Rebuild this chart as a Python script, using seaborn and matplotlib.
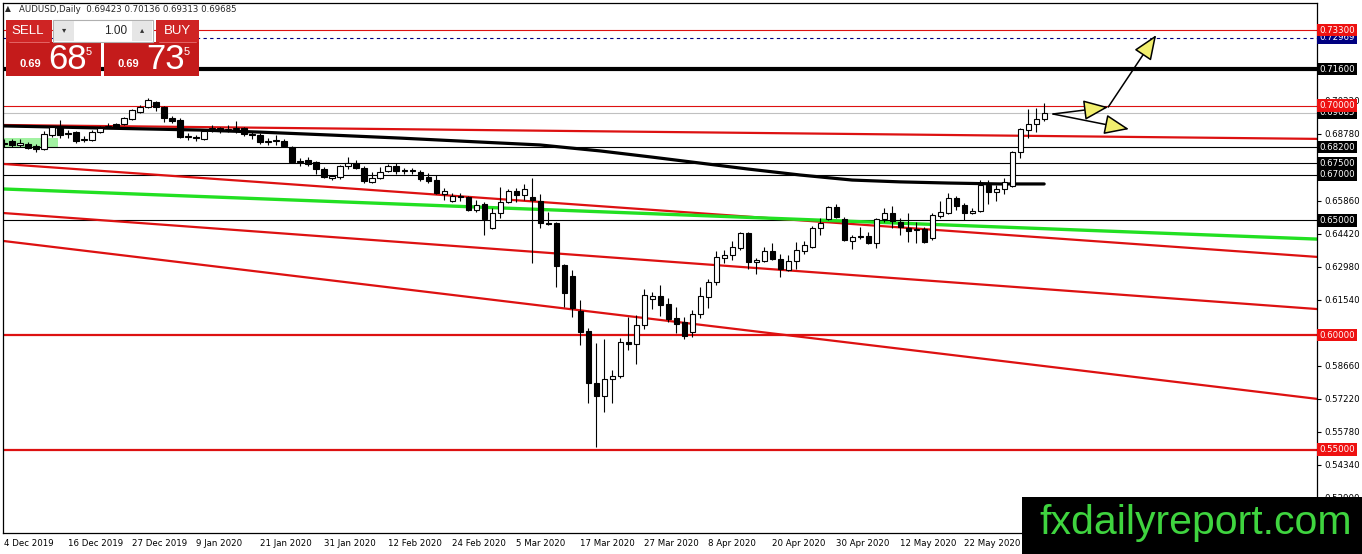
import numpy as np
import pandas as pd
import matplotlib
matplotlib.use("Agg")
import matplotlib.pyplot as plt
from matplotlib.patches import Rectangle
import seaborn as sns

# ===============================
# AUDUSD daily bars
# ===============================

opens = [0.6837, 0.6846, 0.6829, 0.6833, 0.6824, 0.6811, 0.6872, 0.6907, 0.6877, 0.6885,
         0.6851, 0.6851, 0.6885, 0.6907, 0.6920, 0.6920, 0.6942, 0.6973, 0.6994, 0.7016,
         0.6994, 0.6946, 0.6938, 0.6864, 0.6864, 0.6855, 0.6898, 0.6903, 0.6894, 0.6898,
         0.6903, 0.6877, 0.6872, 0.6842, 0.6846, 0.6846, 0.6820, 0.6759, 0.6763, 0.6755,
         0.6724, 0.6685, 0.6689, 0.6737, 0.6750, 0.6728, 0.6668, 0.6685, 0.6715, 0.6737,
         0.6715, 0.6720, 0.6711, 0.6689, 0.6676, 0.6615, 0.6585, 0.6607, 0.6602, 0.6546,
         0.6572, 0.6467, 0.6532, 0.6581, 0.6629, 0.6611, 0.6602, 0.6585, 0.6489, 0.6489,
         0.6306, 0.6258, 0.6105, 0.6018, 0.5791, 0.5734, 0.5808, 0.5822, 0.5970, 0.5961,
         0.6044, 0.6157, 0.6171, 0.6135, 0.6075, 0.6057, 0.6013, 0.6092, 0.6166, 0.6231,
         0.6336, 0.6349, 0.6380, 0.6445, 0.6319, 0.6323, 0.6367, 0.6332, 0.6284, 0.6323,
         0.6367, 0.6384, 0.6467, 0.6506, 0.6559, 0.6506, 0.6410, 0.6428, 0.6432, 0.6402,
         0.6506, 0.6532, 0.6493, 0.6467, 0.6458, 0.6463, 0.6423, 0.6519, 0.6532, 0.6598,
         0.6567, 0.6532, 0.6541, 0.6655, 0.6624, 0.6637, 0.6650, 0.6798, 0.6894, 0.6920,
         0.69423]
highs = [0.6855, 0.6855, 0.6855, 0.6842, 0.6833, 0.6890, 0.6912, 0.6938, 0.6894, 0.6890,
         0.6868, 0.6894, 0.6912, 0.6925, 0.6925, 0.6951, 0.6986, 0.7003, 0.7034, 0.7020,
         0.6999, 0.6955, 0.6946, 0.6881, 0.6872, 0.6898, 0.6916, 0.6907, 0.6916, 0.6933,
         0.6907, 0.6885, 0.6881, 0.6859, 0.6872, 0.6855, 0.6824, 0.6772, 0.6776, 0.6759,
         0.6733, 0.6698, 0.6741, 0.6776, 0.6763, 0.6737, 0.6711, 0.6733, 0.6746, 0.6750,
         0.6728, 0.6728, 0.6720, 0.6707, 0.6698, 0.6642, 0.6620, 0.6620, 0.6607, 0.6589,
         0.6581, 0.6554, 0.6646, 0.6637, 0.6642, 0.6659, 0.6685, 0.6615, 0.6537, 0.6493,
         0.6310, 0.6284, 0.6153, 0.6031, 0.5965, 0.5983, 0.5848, 0.5987, 0.6079, 0.6088,
         0.6201, 0.6188, 0.6218, 0.6162, 0.6122, 0.6079, 0.6109, 0.6210, 0.6245, 0.6367,
         0.6371, 0.6410, 0.6449, 0.6449, 0.6336, 0.6384, 0.6402, 0.6354, 0.6349, 0.6406,
         0.6410, 0.6476, 0.6511, 0.6563, 0.6572, 0.6515, 0.6436, 0.6471, 0.6449, 0.6511,
         0.6554, 0.6563, 0.6511, 0.6532, 0.6493, 0.6471, 0.6532, 0.6585, 0.6620, 0.6607,
         0.6576, 0.6554, 0.6676, 0.6676, 0.6655, 0.6685, 0.6802, 0.6903, 0.6986, 0.6990,
         0.70136]
lows = [0.6820, 0.6820, 0.6820, 0.6811, 0.6798, 0.6807, 0.6864, 0.6859, 0.6859, 0.6837,
        0.6842, 0.6846, 0.6881, 0.6903, 0.6903, 0.6916, 0.6938, 0.6968, 0.6990, 0.6977,
        0.6929, 0.6925, 0.6859, 0.6851, 0.6846, 0.6851, 0.6885, 0.6881, 0.6885, 0.6881,
        0.6868, 0.6855, 0.6833, 0.6829, 0.6829, 0.6820, 0.6750, 0.6737, 0.6737, 0.6702,
        0.6685, 0.6676, 0.6681, 0.6724, 0.6724, 0.6663, 0.6663, 0.6681, 0.6711, 0.6702,
        0.6702, 0.6702, 0.6672, 0.6663, 0.6615, 0.6589, 0.6581, 0.6585, 0.6541, 0.6537,
        0.6436, 0.6463, 0.6511, 0.6576, 0.6581, 0.6589, 0.6314, 0.6467, 0.6480, 0.6210,
        0.6122, 0.6079, 0.5957, 0.5704, 0.5512, 0.5665, 0.5704, 0.5813, 0.5935, 0.5874,
        0.6026, 0.6114, 0.6083, 0.6057, 0.6009, 0.5983, 0.5992, 0.6075, 0.6118, 0.6218,
        0.6314, 0.6327, 0.6371, 0.6288, 0.6266, 0.6319, 0.6327, 0.6253, 0.6279, 0.6288,
        0.6354, 0.6380, 0.6436, 0.6502, 0.6511, 0.6410, 0.6375, 0.6419, 0.6397, 0.6380,
        0.6493, 0.6467, 0.6436, 0.6406, 0.6402, 0.6402, 0.6415, 0.6511, 0.6528, 0.6546,
        0.6502, 0.6528, 0.6537, 0.6572, 0.6585, 0.6615, 0.6646, 0.6772, 0.6859, 0.6885,
        0.69313]
closes = [0.6833, 0.6829, 0.6837, 0.6816, 0.6811, 0.6877, 0.6907, 0.6872, 0.6881, 0.6846,
          0.6855, 0.6885, 0.6903, 0.6912, 0.6907, 0.6946, 0.6981, 0.6994, 0.7025, 0.6994,
          0.6946, 0.6933, 0.6864, 0.6868, 0.6859, 0.6890, 0.6903, 0.6890, 0.6898, 0.6903,
          0.6877, 0.6872, 0.6842, 0.6846, 0.6851, 0.6824, 0.6755, 0.6755, 0.6746, 0.6724,
          0.6689, 0.6694, 0.6737, 0.6750, 0.6728, 0.6672, 0.6685, 0.6711, 0.6737, 0.6715,
          0.6720, 0.6715, 0.6681, 0.6672, 0.6620, 0.6629, 0.6607, 0.6602, 0.6546, 0.6567,
          0.6506, 0.6532, 0.6581, 0.6629, 0.6611, 0.6637, 0.6589, 0.6489, 0.6484, 0.6301,
          0.6184, 0.6118, 0.6013, 0.5791, 0.5734, 0.5808, 0.5822, 0.5970, 0.5961, 0.6044,
          0.6175, 0.6171, 0.6131, 0.6070, 0.6048, 0.5996, 0.6092, 0.6171, 0.6231, 0.6340,
          0.6349, 0.6384, 0.6445, 0.6319, 0.6327, 0.6367, 0.6332, 0.6288, 0.6323, 0.6371,
          0.6393, 0.6467, 0.6489, 0.6559, 0.6515, 0.6415, 0.6428, 0.6432, 0.6402, 0.6506,
          0.6532, 0.6497, 0.6471, 0.6454, 0.6463, 0.6406, 0.6524, 0.6537, 0.6598, 0.6563,
          0.6532, 0.6541, 0.6655, 0.6624, 0.6637, 0.6668, 0.6798, 0.6898, 0.6920, 0.6942,
          0.69685]

# moving average (black) read at a few bars
ma_bar = [0, 12, 24.5, 32, 41, 49.5, 57, 67, 74.5, 81, 87, 93, 99.5, 106, 112, 118, 124.5, 130]
ma_price = [0.6912, 0.6903, 0.6894, 0.6885, 0.6872, 0.6859, 0.6846, 0.6829, 0.6803, 0.6776,
            0.6750, 0.6724, 0.6698, 0.6676, 0.6668, 0.6663, 0.6659, 0.6659]

# trend lines: two anchor points each (bar, price)
trend_red = [((0, 0.6916), (160, 0.6857)),
             ((0, 0.6746), (160, 0.6351)),
             ((0, 0.6532), (160, 0.6124)),
             ((0, 0.6410), (160, 0.5739))]
trend_green = ((0, 0.6637), (160, 0.6424))

# horizontal levels with their price labels
levels = [0.72969, 0.73300, 0.71600, 0.69685, 0.70000, 0.68200, 0.67500, 0.67000, 0.65000,
          0.60000, 0.55000]
level_colors = ["#000080", "#ee1111", "black", "black", "#ee1111", "black", "black", "black",
                "black", "#ee1111", "#ee1111"]

y_ticks = [0.70220, 0.68780, 0.65860, 0.64420, 0.62980, 0.61540, 0.58660, 0.57220, 0.55780,
           0.54340, 0.52900]
x_labels = ["4 Dec 2019", "16 Dec 2019", "27 Dec 2019", "9 Jan 2020", "21 Jan 2020",
            "31 Jan 2020", "12 Feb 2020", "24 Feb 2020", "5 Mar 2020", "17 Mar 2020",
            "27 Mar 2020", "8 Apr 2020", "20 Apr 2020", "30 Apr 2020", "12 May 2020",
            "22 May 2020"]

# arrows drawn on the chart (bar, price)
arrow_start = (131.1, 0.6964)
arrow_mid = (138.0, 0.6994)
arrow_up = (144.0, 0.7308)
arrow_down = (140.6, 0.6898)

RED = "#dd1111"

# ===============================
# Figure
# ===============================

sns.set_style("white")
plt.rcParams["font.family"] = ["DejaVu Sans"]

W, H = 1362, 554
fig = plt.figure(figsize=(W / 100, H / 100), dpi=100)
ax = fig.add_axes([3 / W, 21 / H, 1314 / W, 530 / H])
ax.set_xlim(-0.125, 164.1)
ax.set_ylim(0.5137, 0.7448)

df = pd.DataFrame({"open": opens, "high": highs, "low": lows, "close": closes})
df["bar"] = np.arange(len(df))
df["up"] = df["close"] >= df["open"]

# green box at the left
ax.add_patch(Rectangle((-0.125, 0.6820), 6.9, 0.0039, fc="#a2f2a2", ec="none", zorder=1))

# horizontal lines
ax.axhline(0.73300, color=RED, lw=0.8, zorder=2)
ax.axhline(0.72969, color="#000080", lw=0.8, ls=(0, (3, 3)), zorder=2)
ax.axhline(0.71600, color="black", lw=3.0, zorder=2)
ax.axhline(0.70000, color=RED, lw=0.8, zorder=2)
ax.axhline(0.69685, color="#c0c0c0", lw=0.8, zorder=2)
for lv in [0.68200, 0.67500, 0.67000, 0.65000]:
    ax.axhline(lv, color="black", lw=0.8, zorder=2)
for lv in [0.60000, 0.55000]:
    ax.axhline(lv, color=RED, lw=1.6, zorder=2)

# trend lines
for p1, p2 in trend_red:
    ax.axline(p1, p2, color=RED, lw=1.6, zorder=2)
ax.axline(trend_green[0], trend_green[1], color="#22e022", lw=2.4, zorder=2)

# moving average
sns.lineplot(x=ma_bar, y=ma_price, ax=ax, color="black", lw=2.3, zorder=3)

# candles
ax.vlines(df["bar"], df["low"], df["high"], color="black", lw=0.8, zorder=5)
ax.bar(df["bar"], (df["close"] - df["open"]).abs(),
       bottom=df[["open", "close"]].min(axis=1), width=0.64,
       color=np.where(df["up"], "white", "black"), edgecolor="black", linewidth=0.8, zorder=6)

# arrows
head = dict(arrowstyle="-|>,head_length=1.1,head_width=0.45", mutation_scale=14,
            fc="#f2ef6e", ec="black", lw=1.1, shrinkA=0, shrinkB=0)
for a, b in [(arrow_start, arrow_mid), (arrow_mid, arrow_up), (arrow_start, arrow_down)]:
    ax.annotate("", xy=b, xytext=a, arrowprops=head, zorder=8)

# axes, ticks
ax.yaxis.tick_right()
ax.set_yticks(y_ticks)
ax.set_yticklabels([f"{v:.5f}" for v in y_ticks])
ax.set_xticks(np.arange(0, 8 * len(x_labels), 8))
ax.set_xticklabels(x_labels, ha="left")
ax.tick_params(axis="y", length=3, width=0.8, pad=2, labelsize=6.2, colors="black")
ax.tick_params(axis="x", length=3, width=0.8, pad=1.5, labelsize=6.2, colors="black")
for sp in ax.spines.values():
    sp.set_color("black")
    sp.set_linewidth(0.9)
ax.set_xlabel("")
ax.set_ylabel("")

# price boxes on the right axis
for lv, col in zip(levels, level_colors):
    ax.text(1.0018, lv, f"{lv:.5f}", transform=ax.get_yaxis_transform(), ha="left",
            va="center", fontsize=6.2, color="white", clip_on=False, zorder=10,
            bbox=dict(boxstyle="square,pad=0.22", fc=col, ec="none"))

# ===============================
# Overlay: header, trade panel, watermark
# ===============================

ov = fig.add_axes([0, 0, 1, 1])
ov.set_xlim(0, W)
ov.set_ylim(H, 0)
ov.axis("off")

ov.text(5, 9, "\u25b2", fontsize=5.5, va="center", ha="left")
ov.text(19, 9, "AUDUSD,Daily  0.69423 0.70136 0.69313 0.69685", fontsize=6.2, va="center",
        ha="left")

narrow = ["Liberation Sans Narrow", "Liberation Sans", "DejaVu Sans"]
ov.add_patch(Rectangle((6, 20), 46, 22, fc="#cf2424", ec="none"))
ov.add_patch(Rectangle((156, 20), 43, 22, fc="#cf2424", ec="none"))
ov.add_patch(Rectangle((6, 42), 95, 34, fc="#c41b1b", ec="none"))
ov.add_patch(Rectangle((104, 42), 95, 34, fc="#c41b1b", ec="none"))
ov.plot([9, 49], [41.5, 41.5], color="#e87070", lw=0.6)
ov.plot([159, 196], [41.5, 41.5], color="#e87070", lw=0.6)
ov.add_patch(Rectangle((53, 20), 100, 22, fc="white", ec="#b0b0b0", lw=0.8))
ov.add_patch(Rectangle((54, 21), 20, 20, fc="#e6e6e6", ec="none"))
ov.add_patch(Rectangle((132, 21), 20, 20, fc="#e6e6e6", ec="none"))
ov.text(64, 30, "\u25be", fontsize=6, ha="center", va="center", color="#333333")
ov.text(142, 30, "\u25b4", fontsize=6, ha="center", va="center", color="#333333")
ov.text(127, 31, "1.00", fontsize=8.5, ha="right", va="center", family=narrow)
ov.text(28, 31, "SELL", fontsize=9.5, ha="center", va="center", color="white", family=narrow)
ov.text(177, 31, "BUY", fontsize=9.5, ha="center", va="center", color="white", family=narrow)

for x0, big in [(6, "68"), (104, "73")]:
    ov.text(x0 + 14, 67, "0.69", fontsize=8, weight="bold", color="white", ha="left",
            va="baseline", family=narrow)
    ov.text(x0 + 42, 69, big, fontsize=25, color="white", ha="left", va="baseline",
            family=narrow)
    ov.text(x0 + 80, 55, "5", fontsize=8, color="white", ha="left", va="baseline",
            family=narrow)

# watermark
ov.add_patch(Rectangle((1022, 497), 340, 57, fc="black", ec="none"))
ov.text(1039, 523, "fxdailyreport.com", fontsize=29.5, color="#3fd43f", ha="left",
        va="center", family=["Liberation Sans", "DejaVu Sans"])

fig.savefig("out.png", dpi=100)
